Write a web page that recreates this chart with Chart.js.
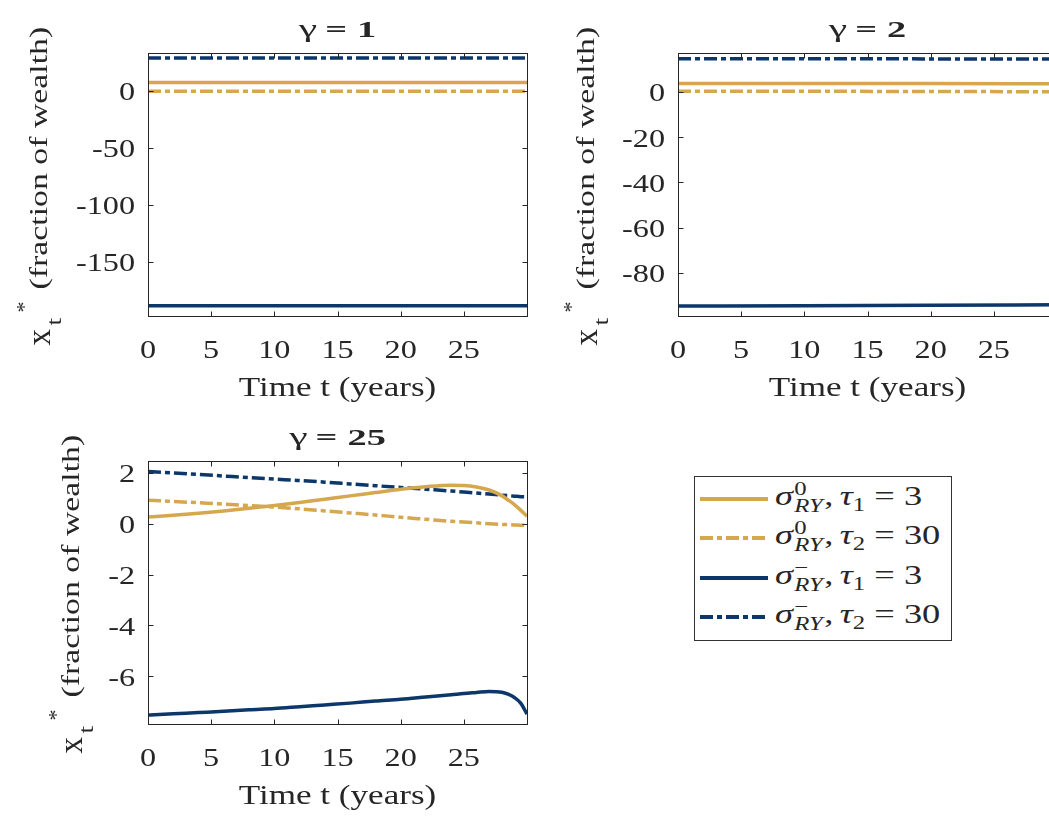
<!DOCTYPE html>
<html lang="en">
<head>
<meta charset="UTF-8">
<title>Optimal allocation x*_t</title>
<script src="https://cdn.jsdelivr.net/npm/chart.js@4"></script>
<style>
    html, body { margin: 0; padding: 0; background: #fff; overflow: hidden; width: 1049px; height: 820px; }
    .panel { position: absolute; width: 540px; height: 420px; }
    #legend { position: absolute; left: 694px; top: 476px; width: 258px; height: 165px; box-sizing: border-box;
              border: 1px solid #333; background: #fff; font-family: "Liberation Serif", serif; color: #262626; }
    .row { position: absolute; left: 0; height: 40px; display: flex; align-items: center; }
    .row svg { margin-left: 5px; }
    .lab { display: inline-block; font-size: 28px; line-height: 40px; height: 40px; white-space: nowrap;
           transform: scaleX(1.3); transform-origin: left center; margin-left: 7px; position: relative; top: -3px; }
    .ss { display: inline-block; position: relative; width: 23px; height: 1px; margin-left: 1px; }
    .ss span { position: absolute; left: 0; font-size: 19px; line-height: 1; }
    .ss .up { bottom: 7px; }
    .ss .dn { top: -8px; font-style: italic; }
    .sb { font-size: 19px; position: relative; top: 6px; }
    .eq { margin: 0 7px; }
</style>
</head>
<body>
    <canvas id="g1" class="panel" width="540" height="420" style="left:0;top:0"></canvas>
    <canvas id="g2" class="panel" width="540" height="420" style="left:530px;top:0"></canvas>
    <canvas id="g25" class="panel" width="540" height="420" style="left:0;top:408px"></canvas>
    <div id="legend"></div>

<script>
    // time grids (years)
    const timeTop = [0, 10, 20, 30];
    const timeLow = [0, 2, 4, 6, 8, 10, 12, 14, 16, 18, 20, 22, 24, 25, 26, 27, 28, 28.5, 29, 29.5, 30];

    // gamma = 1
    const g1Sig0Tau1 = [7.2, 7.2, 7.2, 7.2];
    const g1Sig0Tau2 = [-0.4, -0.4, -0.4, -0.4];
    const g1SigMTau1 = [-188.8, -188.8, -188.8, -188.8];
    const g1SigMTau2 = [28.8, 28.8, 28.8, 28.8];

    // gamma = 2
    const g2Sig0Tau1 = [3.6, 3.6, 3.6, 3.5];
    const g2Sig0Tau2 = [0.2, 0.2, 0.1, 0.0];
    const g2SigMTau1 = [-94.6, -94.5, -94.3, -94.0];
    const g2SigMTau2 = [14.6, 14.6, 14.5, 14.4];

    // gamma = 25
    const g25Sig0Tau1 = [0.26, 0.33, 0.41, 0.50, 0.60, 0.71, 0.83, 0.96, 1.09, 1.22, 1.35, 1.45, 1.51, 1.50, 1.44, 1.32, 1.10, 0.93, 0.75, 0.53, 0.29];
    const g25Sig0Tau2 = [0.92, 0.87, 0.82, 0.77, 0.71, 0.65, 0.58, 0.50, 0.42, 0.34, 0.25, 0.17, 0.09, 0.06, 0.03, 0.0, -0.03, -0.04, -0.05, -0.06, -0.06];
    const g25SigMTau1 = [-7.52, -7.47, -7.42, -7.37, -7.31, -7.26, -7.19, -7.12, -7.05, -6.97, -6.90, -6.81, -6.72, -6.67, -6.63, -6.59, -6.62, -6.70, -6.83, -7.05, -7.48];
    const g25SigMTau2 = [2.05, 1.99, 1.93, 1.87, 1.81, 1.75, 1.69, 1.63, 1.56, 1.49, 1.42, 1.35, 1.28, 1.24, 1.20, 1.16, 1.12, 1.10, 1.08, 1.06, 1.05];

    // ticks
    const xTicks = [0, 5, 10, 15, 20, 25];
    const g1Ticks = [-150, -100, -50, 0];
    const g2Ticks = [-80, -60, -40, -20, 0];
    const g25Ticks = [-6, -4, -2, 0, 2];

    // legend text pieces
    const legendSup = ['0', '0', '\u2212', '\u2212'];
    const legendTauIdx = ['1', '2', '1', '2'];
    const legendTauVal = ['3', '30', '3', '30'];

    const GOLD = '#d5a84f';
    const NAVY = '#0c376b';
    const INK = '#262626';
    const SERIF = '"Liberation Serif", "Times New Roman", serif';
    const DASHDOT = [13, 4, 5, 4];

    // draw text squeezed/stretched horizontally (the reference glyphs are wide)
    function stretchText(ctx, txt, x, y, font, align, sx) {
        ctx.save();
        ctx.font = font;
        const w = ctx.measureText(txt).width * sx;
        let x0 = x;
        if (align === 'center') x0 = x - w / 2;
        else if (align === 'right') x0 = x - w;
        ctx.translate(x0, y);
        ctx.scale(sx, 1);
        ctx.textAlign = 'left';
        ctx.fillText(txt, 0, 0);
        ctx.restore();
        return w;
    }

    function drawTitle(ctx, cx, baseY, num) {
        const sx = 1.6;
        const parts = [
            { t: '\u03b3', f: '26px ' + SERIF, gap: 8 },
            { t: '=', f: 'bold 24px ' + SERIF, gap: 10 },
            { t: num, f: 'bold 24px ' + SERIF, gap: 0 }
        ];
        let total = 0;
        parts.forEach(p => { ctx.font = p.f; p.w = ctx.measureText(p.t).width * sx; total += p.w + p.gap; });
        let x = cx - total / 2;
        parts.forEach(p => { stretchText(ctx, p.t, x, baseY, p.f, 'left', sx); x += p.w + p.gap; });
    }

    function drawYLabel(ctx, bx, by) {
        ctx.save();
        ctx.translate(bx, by);
        ctx.rotate(-Math.PI / 2);
        ctx.font = '33px ' + SERIF;
        ctx.textAlign = 'left';
        ctx.fillText('x', 0, 3);
        stretchText(ctx, 't', 20, 14, '21px ' + SERIF, 'left', 1.3);
        stretchText(ctx, '*', 33, -16, '22px ' + SERIF, 'left', 1.0);
        stretchText(ctx, '(fraction of wealth)', 56, 0, '26px ' + SERIF, 'left', 1.3);
        ctx.restore();
    }

    // MATLAB-like boxed axes with inward ticks and wide serif labels
    const framePlugin = {
        id: 'frame',
        afterDatasetsDraw(chart, args, o) {
            const { ctx, chartArea: a, scales: { x, y } } = chart;
            ctx.save();
            ctx.strokeStyle = INK;
            ctx.lineWidth = 1;
            const L = Math.round(a.left) + 0.5, T = Math.round(a.top) + 0.5;
            const R = Math.round(a.right) + 0.5, B = Math.round(a.bottom) + 0.5;
            ctx.strokeRect(L, T, R - L, B - T);
            ctx.beginPath();
            o.xTicks.forEach(v => {
                const px = Math.round(x.getPixelForValue(v)) + 0.5;
                ctx.moveTo(px, B); ctx.lineTo(px, B - 5);
                ctx.moveTo(px, T); ctx.lineTo(px, T + 5);
            });
            o.yTicks.forEach(v => {
                const py = Math.round(y.getPixelForValue(v)) + 0.5;
                ctx.moveTo(L, py); ctx.lineTo(L + 5, py);
                ctx.moveTo(R, py); ctx.lineTo(R - 5, py);
            });
            ctx.stroke();

            ctx.fillStyle = INK;
            ctx.textBaseline = 'alphabetic';
            const tickFont = '26px ' + SERIF;
            o.xTicks.forEach(v => {
                stretchText(ctx, String(v), x.getPixelForValue(v), a.bottom + 42, tickFont, 'center', 1.24);
            });
            o.yTicks.forEach(v => {
                stretchText(ctx, String(v), a.left - 13, y.getPixelForValue(v) + 9.5, tickFont, 'right', 1.24);
            });
            const cx = (a.left + a.right) / 2;
            stretchText(ctx, 'Time t (years)', cx, a.bottom + 80, '27px ' + SERIF, 'center', 1.3);
            drawTitle(ctx, cx, a.top - 16, o.gamma);
            drawYLabel(ctx, o.ylabX, (a.top + a.bottom) / 2 + 161);
            ctx.restore();
        }
    };

    function series(time, vals, color, dashed) {
        return {
            data: time.map((t, i) => ({ x: t, y: vals[i] })),
            borderColor: color,
            borderWidth: 3.5,
            borderDash: dashed ? DASHDOT : [],
            borderCapStyle: 'butt',
            pointRadius: 0,
            cubicInterpolationMode: 'monotone',
            fill: false
        };
    }

    function makePanel(id, gamma, time, vals, yMin, yMax, yTicks, ylabX) {
        new Chart(document.getElementById(id), {
            type: 'line',
            data: {
                datasets: [
                    series(time, vals[0], GOLD, false),
                    series(time, vals[1], GOLD, true),
                    series(time, vals[2], NAVY, false),
                    series(time, vals[3], NAVY, true)
                ]
            },
            options: {
                responsive: false,
                animation: false,
                devicePixelRatio: 1,
                layout: { padding: { left: 148, top: 53, right: 13, bottom: 104 } },
                scales: {
                    x: { type: 'linear', min: 0, max: 30, display: false },
                    y: { type: 'linear', min: yMin, max: yMax, display: false }
                },
                plugins: {
                    legend: { display: false },
                    tooltip: { enabled: false },
                    frame: { xTicks: xTicks, yTicks: yTicks, gamma: gamma, ylabX: ylabX }
                }
            },
            plugins: [framePlugin]
        });
    }

    makePanel('g1', '1', timeTop, [g1Sig0Tau1, g1Sig0Tau2, g1SigMTau1, g1SigMTau2], -197.8, 33.2, g1Ticks, 47);
    makePanel('g2', '2', timeTop, [g2Sig0Tau1, g2Sig0Tau2, g2SigMTau1, g2SigMTau2], -99, 17.1, g2Ticks, 64);
    makePanel('g25', '25', timeLow, [g25Sig0Tau1, g25Sig0Tau2, g25SigMTau1, g25SigMTau2], -7.87, 2.46, g25Ticks, 79);

    // legend (LaTeX-style labels need sub/superscripts, so it is plain HTML)
    const legendBox = document.getElementById('legend');
    legendSup.forEach((sup, i) => {
        const color = i < 2 ? GOLD : NAVY;
        const dashed = i % 2 === 1;
        const row = document.createElement('div');
        row.className = 'row';
        row.style.top = (2 + i * 39.3) + 'px';
        row.innerHTML =
            '<svg width="68" height="10"><line x1="0" y1="5" x2="68" y2="5" stroke="' + color + '" stroke-width="4"' +
            (dashed ? ' stroke-dasharray="' + DASHDOT.join(' ') + '"' : '') + '/></svg>' +
            '<span class="lab"><i>\u03c3</i><span class="ss"><span class="up">' + sup + '</span><span class="dn">RY</span></span>,' +
            '<i style="margin-left:5px">\u03c4</i><span class="sb">' + legendTauIdx[i] + '</span><span class="eq">=</span>' +
            legendTauVal[i] + '</span>';
        legendBox.appendChild(row);
    });
</script>
</body>
</html>
